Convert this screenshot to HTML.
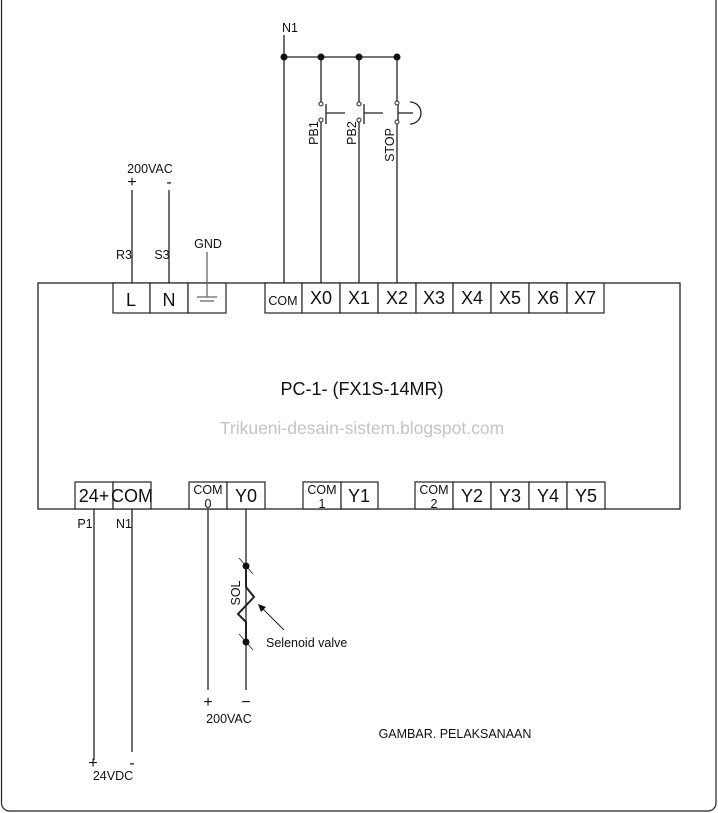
<!DOCTYPE html>
<html><head><meta charset="utf-8"><style>html,body{margin:0;padding:0;background:#fff}svg{display:block}</style></head><body>
<svg width="718" height="813" viewBox="0 0 718 813" xmlns="http://www.w3.org/2000/svg" font-family="Liberation Sans, Arial, sans-serif">
<rect x="1.5" y="-10" width="714.5" height="821" rx="8" fill="none" stroke="#222" stroke-width="1.2"/>
<g stroke="#222" fill="none" stroke-width="1.3">
<rect x="38" y="283" width="642" height="226"/>
</g>
<g stroke="#222" fill="#fff" stroke-width="1.2">
<rect x="113" y="283" width="37" height="30"/><rect x="150" y="283" width="38" height="30"/><rect x="188" y="283" width="38" height="30"/>
<rect x="265" y="283" width="37" height="30"/><rect x="302" y="283" width="38" height="30"/><rect x="340" y="283" width="38" height="30"/><rect x="378" y="283" width="38" height="30"/><rect x="416" y="283" width="37" height="30"/><rect x="453" y="283" width="38" height="30"/><rect x="491" y="283" width="38" height="30"/><rect x="529" y="283" width="38" height="30"/><rect x="567" y="283" width="37" height="30"/>
<rect x="75" y="482" width="38" height="27"/><rect x="113" y="482" width="38" height="27"/>
<rect x="189" y="482" width="38" height="27"/><rect x="227" y="482" width="38" height="27"/>
<rect x="303" y="482" width="38" height="27"/><rect x="341" y="482" width="37" height="27"/>
<rect x="415" y="482" width="38" height="27"/><rect x="453" y="482" width="38" height="27"/><rect x="491" y="482" width="38" height="27"/><rect x="529" y="482" width="38" height="27"/><rect x="567" y="482" width="38" height="27"/>
</g>
<g fill="#111" font-size="18" text-anchor="middle">
<text x="131" y="306">L</text><text x="169" y="306">N</text>
<text x="321" y="304">X0</text><text x="359" y="304">X1</text><text x="397" y="304">X2</text><text x="434" y="304">X3</text><text x="472" y="304">X4</text><text x="510" y="304">X5</text><text x="548" y="304">X6</text><text x="585" y="304">X7</text>
<text x="94" y="502">24+</text><text x="132" y="502">COM</text>
<text x="246" y="502">Y0</text><text x="359" y="502">Y1</text>
<text x="472" y="502">Y2</text><text x="510" y="502">Y3</text><text x="548" y="502">Y4</text><text x="586" y="502">Y5</text>
</g>
<g fill="#111" font-size="12.5" text-anchor="middle">
<text x="283" y="305">COM</text>
<text x="208" y="494">COM</text><text x="208" y="508">0</text>
<text x="322" y="494">COM</text><text x="322" y="508">1</text>
<text x="434" y="494">COM</text><text x="434" y="508">2</text>
<text x="150" y="173">200VAC</text><text x="132" y="187" font-size="16">+</text><text x="169" y="187" font-size="16">-</text>
<text x="124" y="259">R3</text><text x="162" y="259">S3</text><text x="208" y="248">GND</text>
<text x="290" y="32">N1</text>
<text x="85" y="528">P1</text><text x="124" y="528">N1</text>
<text x="208" y="707" font-size="16">+</text><text x="246" y="707" font-size="16">−</text><text x="229" y="723">200VAC</text>
<text x="93" y="768" font-size="16">+</text><text x="132" y="768" font-size="16">-</text><text x="113" y="780">24VDC</text>
<text x="266" y="647" text-anchor="start">Selenoid valve</text>
<text x="455" y="738">GAMBAR. PELAKSANAAN</text>
</g>
<text x="362" y="395" font-size="18" text-anchor="middle" fill="#111">PC-1- (FX1S-14MR)</text>
<text x="362" y="434" font-size="17.5" text-anchor="middle" fill="#c4c4c4">Trikueni-desain-sistem.blogspot.com</text>
<g fill="#111" font-size="12.5" text-anchor="middle">
<text transform="translate(318,133) rotate(-90)">PB1</text>
<text transform="translate(356,133) rotate(-90)">PB2</text>
<text transform="translate(394,145) rotate(-90)">STOP</text>
<text transform="translate(240,593) rotate(-90)">SOL</text>
</g>
<g stroke="#222" fill="none" stroke-width="1.3">
<line x1="132" y1="190" x2="132" y2="283"/><line x1="169" y1="190" x2="169" y2="283"/>
<line x1="207" y1="252" x2="207" y2="297" stroke="#666"/>
<line x1="197" y1="297" x2="217" y2="297" stroke="#666"/><line x1="200" y1="301" x2="214" y2="301" stroke="#666"/>
<line x1="284" y1="35" x2="284" y2="283"/><line x1="284" y1="57" x2="397" y2="57"/>
<line x1="321" y1="57" x2="321" y2="102"/><line x1="321" y1="122" x2="321" y2="283"/>
<line x1="359" y1="57" x2="359" y2="102"/><line x1="359" y1="122" x2="359" y2="283"/>
<line x1="397" y1="57" x2="397" y2="101"/><line x1="397" y1="124" x2="397" y2="283"/>
<line x1="326" y1="104" x2="326" y2="124"/><line x1="326" y1="113" x2="345" y2="113"/>
<line x1="364" y1="104" x2="364" y2="124"/><line x1="364" y1="113" x2="383" y2="113"/>
<line x1="398" y1="104" x2="398" y2="122"/><line x1="398" y1="113" x2="413" y2="113"/>
<path d="M410 102 A11 11 0 0 1 410 124"/>
<line x1="94" y1="509" x2="94" y2="760"/><line x1="132" y1="509" x2="132" y2="752"/>
<line x1="208" y1="509" x2="208" y2="690"/><line x1="246" y1="509" x2="246" y2="690"/>
<polyline points="246,566 246,587 254,597 238,614 246,622 246,642" stroke-width="2"/>
<line x1="239" y1="558" x2="253" y2="574" stroke-width="0.8"/><line x1="239" y1="634" x2="253" y2="650" stroke-width="0.8"/>
<line x1="284" y1="630" x2="261" y2="607" stroke-width="1"/>
</g>
<polygon points="258,604 266,607 261,612" fill="#111"/>
<g fill="#111">
<circle cx="284" cy="57" r="3.5"/><circle cx="321" cy="57" r="3.5"/><circle cx="359" cy="57" r="3.5"/><circle cx="397" cy="57" r="3.5"/>
<circle cx="246" cy="566" r="3.5"/><circle cx="246" cy="642" r="3.5"/>
</g>
<g fill="#fff" stroke="#222" stroke-width="1">
<circle cx="321" cy="104" r="2"/><circle cx="321" cy="120" r="2"/>
<circle cx="359" cy="104" r="2"/><circle cx="359" cy="120" r="2"/>
<circle cx="397" cy="103" r="2"/><circle cx="397" cy="122" r="2"/>
</g>
</svg>
</body></html>
